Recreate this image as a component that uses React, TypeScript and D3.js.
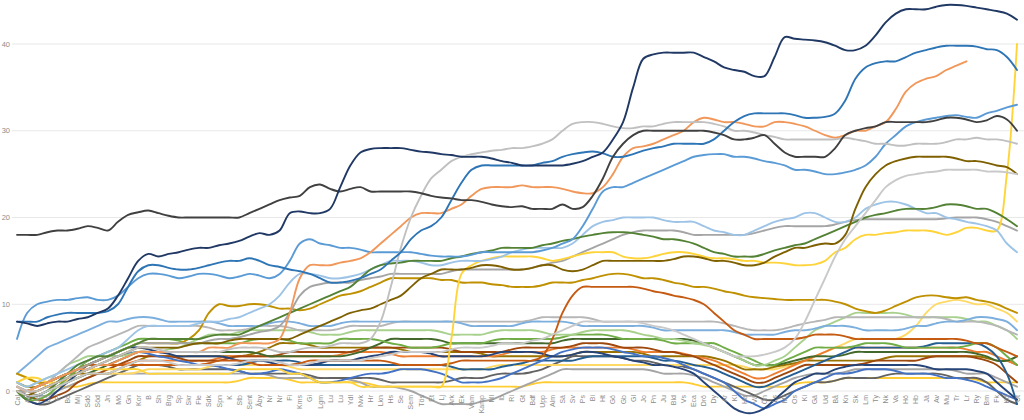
import React from 'react';
import * as d3 from 'd3';

// x-axis category labels (abbreviated place names)
const categories = [
  'Cal', 'Ak', 'Ja', 'Lö', 'Fl', 'Bo', 'Mij', 'Sdö', 'Söd', 'Jn',
  'Mö', 'Gn', 'Kor', 'B', 'Sh', 'Brg', 'Sp', 'Skr', 'Fle', 'Sdk',
  'Spn', 'K', 'Stb', 'Sent', 'Åby', 'Nr', 'Nr', 'Fi', 'Kms', 'Gi',
  'Lgm', 'Lu', 'Lu', 'Ydl', 'Nvk', 'Hr', 'Lkn', 'Hs', 'Se', 'Sem',
  'Tös', 'Et', 'Lj', 'Ark', 'Ek', 'Vam', 'Kamp', 'Ml', 'Ib', 'Ri',
  'Gt', 'Bdf', 'Upp', 'Alm', 'Sä', 'Sv', 'Ps', 'Bi', 'Ht', 'Gö',
  'Gb', 'Gl', 'Jo', 'Pn', 'Ju', 'Bld', 'Vs', 'Eca', 'Drö', 'Dy',
  'Ar', 'Kl', 'Ha', 'Vä', 'Ön', 'Ls', 'Mr', 'Os', 'Ki', 'Gä',
  'Ud', 'Bå', 'Kn', 'Sk', 'Lm', 'Ty', 'Nk', 'Va', 'Hö', 'Hb',
  'Jä', 'Av', 'Mu', 'Tr', 'Lr', 'Ry', 'Bm', 'Fk', 'Kd', 'Ut',
];

const yTicks = [0, 10, 20, 30, 40];

// low cluster
const low1 = [0,-0.5,-0.5,0,1,2,2.5,3,3.5,4, 4,4.3,4.5,4.3,4,3.8,3.5,3.3,3,3, 2.8,2.5,2.3,2,2,2.2,2.5,2.3,2,1.5, 1,1,1.2,1.5,1.8,2,2,2.2,2.5,2.5, 2.5,2.3,2,1.5,1,1,1,1.2,1.5,2, 2.5,3,3.5,4,4.5,4.8,5,5,5,4.8, 4.5,4.3,4,4,3.8,3.5,3,2.5,2,1.5, 1,0,-1,-1.5,-2,-1.5,-1,0,0.5,1, 1.5,2,2,2.2,2.5,2.5,2.5,2.3,2,2, 2,1.8,1.5,1.5,1.3,1,0.5,0,-0.5,-1];
const low2 = [0,-1,-1.5,-1,0,1,2,3,3.5,4, 4.5,5,5,4.8,4.5,4.3,4,4,4,4, 4,3.8,3.5,3.5,3.5,3.3,3,3,3,3, 3.2,3.5,3.5,3.5,3.8,4,4.2,4.5,4.5,4.5, 4.5,4.3,4,4,4,4,4,4.2,4.5,4.5, 4.5,4.5,4.3,4,4,4.2,4.5,4.5,4.3,4, 3.8,3.5,3.3,3,3,2.8,2.5,2,1,0, -1,-2,-2.5,-2.5,-2,-1,0,1,1.5,2, 2,2.5,2.8,3,3,3,3,3,3,3, 2.8,2.5,2.5,2.5,2.5,2.3,2,1,0,-1];
const low3 = [0.5,0,0,0.5,1,1.5,2,2.5,3,3, 3,3.2,3.5,3.5,3.5,3.5,3.5,3.5,3.5,3.5, 3.8,4,4,4,4,4,4,4,4,4, 4,4,4.2,4.5,4.5,4.5,4.5,4.3,4,4, 4,4,4,4,4,4,4,4,4.2,4.5, 4.5,4.5,4.5,4.8,5,5,5,5,5,5, 5,4.8,4.5,4.5,4.5,4.5,4.3,4,3.8,3.5, 3,2.5,2,1.5,1.5,2,2.5,3,3.5,4, 4.5,5,5,5,5,5,5,5,5,5, 5,5,5,5,4.8,4.5,4.5,4,3.5,3];
const low4 = [0,0,0.5,1,1.5,2,2.5,3,3,3, 3,3,3,3,3,3,3,3,3,3.2, 3.5,3.5,3.5,3.3,3,3,3,3,3.2,3.5, 3.5,3.5,3.5,3.5,3.5,3.5,3.5,3.3,3,3, 3,3,3,3.2,3.5,3.5,3.5,3.5,3.5,3.5, 3.5,3.5,4,6,9,11,12,12,12,12, 12,12,11.8,11.5,11.3,11,10.8,10.5,10,9, 8,7,6.5,6,6,6,6,6,6.2,6.5, 6.5,6.5,6.3,6,6,6,6,6,6,6, 6,6,6,6,5.8,5.5,5.5,5,4.5,4];
const low5 = [0,-0.5,-1,-1,-0.5,0,1,1.5,2,2.5, 3,3.5,4,4,4,4,3.8,3.5,3.5,3.5, 3.5,3.8,4,4,4,4,4.2,4.5,4.5,4.5, 4.5,4.5,4.5,4.5,4.8,5,5,5,5,5, 5,5,5,4.8,4.5,4.5,4.5,4.5,4.5,4.8, 5,5,5,5,5,5.2,5.5,5.5,5.5,5.3, 5,5,5,4.8,4.5,4.5,4.2,4,3.5,3, 2.5,2,1.5,1,1,1.5,2,2.5,3,3, 3,3,3,3,3.2,3.5,3.5,3.5,3.5,3.5, 3.8,4,4,4,4,3.8,3.5,3,2,1];
const low6 = [0,-1,-1.5,-1.5,-1,-0.5,0,0.5,1,1.5, 2,2.5,3,3,3,2.8,2.5,2.5,2.5,2.5, 2.5,2.5,2.3,2,2,2,2,2,2,1.8, 1.5,1.5,1.5,1.5,1.5,1.5,1.3,1,1,1, 1,1,1,1.2,1.5,1.5,1.5,1.8,2,2, 2,2.2,2.5,3,3.5,4,4,4,4,4, 3.8,3.5,3.5,3.3,3,3,2.8,2.5,2,1.5, 1,0.5,0,-0.5,-1,-1,-0.5,0,0.5,1, 1,1.2,1.5,1.5,1.5,1.5,1.8,2,2,2, 2,2,1.8,1.5,1.5,1.5,1,0,-1,-1.5];
const low7 = [0.5,0,-0.5,-0.5,0,0.5,1,1.5,2,2, 2,2,2,2,2,2,2,2,2,2, 2,2,2,2,2,1.8,1.5,1.5,1.5,1.5, 1.5,1.5,1.5,1.3,1,0.5,0.5,0.5,0.3,0, -0.5,-1,-1.5,-1.5,-1.5,-1.5,-1.2,-1,-0.5,0, 0.5,1,1.5,2,2.5,2.5,2.5,2.5,2.5,2.5, 2.5,2.5,2.5,2.3,2,2,2,1.8,1.5,1, 0.5,0,-0.5,-0.5,0,0.5,1,1.5,1.8,2, 2,2,2.2,2.5,2.5,2.5,2.5,2.5,2.5,2.5, 2.5,2.5,2.5,2.3,2,2,2,1.5,1,0.5];
const low8 = [2,1.5,1,1,1,1.2,1.5,2,2,2, 2,2,2.2,2.5,2.5,2.5,2.5,2.5,2.5,2.8, 3,3,3,3,3,3,3,2.8,2.5,2.5, 2.5,2.5,2.5,2.5,2.5,2.5,2.5,2.5,2.5,2.5, 2.5,2.5,2.5,2.5,2.5,2.5,2.5,2.8,3,3, 3,3,3,3,3,3,3,3,3,3, 3,3,3,3,3,3,3,3,3,3, 3,3,2.8,2.5,2.5,2.5,2.8,3,3.5,4, 4.5,5,5.5,6,6,6,6,6,6.5,7.5, 9,10,10.3,10.5,10.3,10,10,9.5,9,8];
const low9 = [1,0.5,0.5,1,1.5,2,2,2,2,2, 2.5,3,3.5,4,4,4,4,4,4,4, 4,4,4,4.2,4.5,5,5.5,5.5,5.5,5.3, 5,5,5,5,5,5,5,5,4.8,4.5, 4.5,4.5,4.5,4.5,4.5,4.5,4.3,4,4,4, 4,4,4,4,4,4.2,4.5,4.5,4.5,4.5, 4.5,4.5,4.3,4,4,4,4,4,4,3.8, 3.5,3,2.5,2.5,2.5,2.8,3,3.2,3.5,3.5, 3.5,3.5,3.5,3.5,3.5,3.5,3.8,4,4,4, 4,4,4,4,4,4,3.8,3.5,3.5,3];
const low10 = [0,-0.5,-0.5,0,0.5,1,1.5,2,2.5,3, 3.5,4,4.5,4.5,4.5,4.5,4.5,4.5,4.5,4.5, 4.5,4.5,4.5,4.5,4.3,4,4,4,4,4, 4,4,4,4.2,4.5,5,5.5,6,6,6, 6,6,5.8,5.5,5.5,5.5,5.5,5.5,5.5,5.5, 5.5,5.5,5.5,5.5,5.8,6,6,6,6,6, 6,6,6,6,6,6,6,5.8,5.5,5, 4.5,4,3.5,3,3,3,3.2,3.5,3.8,4, 4,4,4.2,4.5,4.5,4.5,4.5,4.5,4.5,4.5, 4.5,4.5,4.5,4.5,4.5,4.3,4,3.5,3.5,4];
const low11 = [0,0,0.5,1,1.5,2,2.5,3,3,3, 3,3,3,3,3,3,3,3,3,3, 3,3,3,3.2,3.5,3.5,3.5,3.5,3.3,3, 3,3,3,3,3,3,3,3,3,3, 3,3,3,2.8,2.5,2.5,2.5,2.5,2.8,3, 3.2,3.5,3.5,3.5,3.5,3.5,3.8,4,4,4, 4,4,4,3.8,3.5,3.5,3.3,3,2.8,2.5, 2,1.5,1,0.5,0.5,1,1.5,2,2.5,3, 3.5,4,4.5,5,5,5,5,5,5,5, 5.2,5.5,5.5,5.5,5.5,5.5,5,4,2,-1.5];
const low12 = [2,1.5,1,0.5,0.5,0.5,0.5,0.8,1,1, 1,1,1,1,1,1,1,1,1,1, 1,1,1.2,1.5,1.5,1.5,1.5,1.3,1,1, 1,1,1,1,1,0.8,0.5,0.5,0.5,0.5, 0.5,0.5,0.5,0.5,0.5,0.5,0.5,0.5,0.5,0.5, 0.5,0.8,1,1,1,1,1,1,1,1, 1,1,1,1,1,1,1,0.8,0.5,0.5, 0.5,0.5,0.5,0.5,0.5,0.5,0.5,0.8,1,1, 1,1.2,1.5,1.5,1.5,1.5,1.5,1.5,1.5,1.5, 1.5,1.5,1.5,1.5,1.5,1.3,1,1,1,1];

// middle band
const mid1 = [2,3,4,5,5.5,6,6.5,7,7.5,8, 8,8.3,8.5,8.5,8.3,8,8,8,8,8, 7.8,7.5,7.5,7.5,7.5,7.8,8,8,7.8,7.5, 7.5,7.5,7.8,8,8,8,8,8,8,8, 8,8,8,8,7.8,7.5,7.5,7.5,7.5,7.5, 7.8,8,8,8,8,7.8,7.5,7.5,7.5,7.5, 7.5,7.5,7.5,7.3,7,7,7,7,7,7, 7,6.8,6.5,6.5,6.5,6.5,6.8,7,7,7.2, 7.5,7.5,7.5,7.3,7,7,7,7,7.2,7.5, 7.5,7.8,8,8,8.2,8.5,8.5,8.3,8,7];
const mid2 = [0,-1,-1,-0.5,0.5,1.5,2.5,3.5,4,4.5, 5,5.5,6,6,6,6,5.8,5.5,5.5,5.5, 5.5,5.5,5.5,5.8,6,6,6,5.8,5.5,5.5, 5.5,5.5,6,6,6,6,5.8,5.5,5.3,5, 5,5,5.2,5.5,5.5,5.5,5.5,5.8,6,6, 6,6,6,6,6.2,6.5,6.5,6.5,6.5,6.3, 6,6,6,6,5.8,5.5,5.5,5.5,5.5,5.5, 5,4.5,4,3.5,3,3,3.5,4,4.5,5, 5,5,5,5.2,5.5,5.5,5.5,5.3,5,5, 5,5,5,5,5.2,5.5,5.5,5,4,3];
const mid3 = [1,0.5,1,1.5,2,3,3.5,4,4,4, 4,4.2,4.5,4.5,4.5,4.8,5,5.5,6,6.5, 6.5,6.5,6.8,7,7,7,7,7,7,6.8, 6.5,6.5,6.5,6.8,7,7,7,7,7,7, 7,7,6.8,6.5,6.5,6.5,6.5,6.8,7,7, 7,7,6.8,6.5,6.5,6.5,6.8,7,7,7, 7,6.8,6.5,6.3,6,6,5.8,5.5,5.3,5, 4.5,4,3.5,3,3,3.5,4,5,6,7, 7.5,8,8.5,9,9,9,9,9,8.8,8.5, 8.5,8.5,8.5,8.5,8.3,8,8,7.5,7,6];
const mid4 = [0,0,0.5,1,2,3,4,5,5.5,6, 6.5,7,7.5,7.5,7.5,7.5,7.5,7.5,7.5,7.3, 7,7,7,7.2,7.5,7.5,7.5,7.3,7,7, 7,7,7.2,7.5,7.5,7.5,7.5,7.8,8,8, 8,8,8,8,8,8,8,8,8,8, 8,8.2,8.5,8.5,8.5,8.5,8.5,8.3,8,8, 8,8,8,8,8,8,8,8,8,8, 7.8,7.5,7.2,7,7,7,7.2,7.5,7.8,8, 8.2,8.5,8.5,8.5,8.5,8.5,8.5,8.5,8.5,8.5, 8.5,8.5,8.3,8,8,8,7.8,7.5,7,6.5];

// upper lines
const gold = [2,1.5,1,1,1.5,2,2.5,3,3.5,4, 4.5,5,5.5,5.5,5.5,5.5,5.5,6,7,9, 10,9.8,9.8,10,10,9.8,9.5,9.5,9.3,9.5, 10,10.5,11,11.2,11.5,12,12.5,13,13,13, 13,13,12.8,12.8,12.5,12.5,12.5,12.3,12.2,12, 12,12,12.2,12.5,12.5,12.5,12.8,13,13.3,13.5, 13.5,13.3,13,13,12.8,12.5,12.3,12,12,11.8, 11.5,11.3,11,10.8,10.7,10.6,10.5,10.5,10.5,10.5, 10.5,10.3,10,9.5,9.2,9,9.3,9.8,10.3,10.8, 11,11,10.8,10.7,10.8,10.5,10.3,10,9.5,9];
const grayMid = [0,0,0.5,1,1.5,2,2.5,3,3.5,4, 4.5,5,5.5,5.5,5.5,5.5,5.5,5.5,5.5,5.8, 6,6,6.2,6.5,6.8,7,7.5,9,11,12, 12.3,12.5,12.5,12.5,12.8,13,13.2,13.5,13.5,13.5, 13.5,13.5,13.5,13.8,14,14,14,14,14,14, 14,14.2,14.5,14.8,15,15.5,16,16.5,17,17.5, 18,18.3,18.5,18.5,18.5,18.5,18.3,18,18,18, 18,18,18,18.2,18.5,18.8,19,19,19,19, 19,19.2,19.5,19.7,19.8,19.8,19.8,19.8,19.8,19.8, 19.8,19.8,19.9,20,20,20,19.8,19.5,19,18.5];
const yellow = [1,1.5,1.5,1,1,1.5,2,2.5,2.5,2.5, 2.5,2.5,2.5,2,2,2,2,2,2,2, 2,2,2.5,2.5,2.5,2.5,2.5,2,2,1.5, 1,1,1,1,0.5,0.5,0.5,0.5,0.5,0.5, 0.5,0.5,0.5,6,13.5,14.5,15,15.3,15.5,15.5, 15.5,15.5,15.3,15,15.2,15.5,15.8,16,16,16, 15.5,15.3,15.3,15.5,15.8,16,16,15.8,15.5,15.3, 15.3,15.2,15,15,14.8,14.8,14.7,14.5,14.5,14.6, 15,16,16.5,17.5,18,18,18.2,18.3,18.5,18.5, 18.5,18.3,18,18.3,18.8,18.8,18.5,18.5,25,40];
const lightBlue = [1,0.5,1,1.5,2,2.5,3,3.5,4,4.5, 5,6,7,7.5,7.5,7.5,7.5,7.5,7.8,8, 8,8.3,8.5,9,9.5,10,11,12.5,13.5,13.5, 13.3,13,13,13.2,13.5,14,14.5,15,15,15, 14.8,14.5,14.5,14.8,15,15,15,15.2,15.5,16, 16.3,16.5,16.5,16.5,16.5,17,18,19,19.5,19.7, 20,20,20,20,19.7,19.5,19.5,19.5,19,18.5, 18.3,18,18,18.5,19,19.5,19.8,20,20.5,20.5, 20,19.5,19.5,20,21,21.5,21.8,21.8,21.5,21, 20.5,20.5,20,19.8,19.5,19.3,19,18.5,17,16];
const green = [0,-1,-0.5,0,1,2,3,3.5,4,4, 4.5,5,5.5,6,6,6,6,6,6,6.3, 6.5,6.5,6.5,7,7.5,8,8.5,9,9.5,10, 10.5,11,11.5,12,13,14,14.5,14.7,14.8,15, 15,15,15,15.3,15.5,15.8,16,16.2,16.5,16.5, 16.5,16.5,16.8,17,17.3,17.5,17.8,18,18.2,18.3, 18.3,18.2,18,17.8,17.5,17.5,17.3,17,16.5,16, 15.8,15.5,15.5,15.5,15.8,16.2,16.5,16.8,17,17.5, 18,18.5,19,19.5,20,20.3,20.5,20.8,21,21, 21,21.2,21.5,21.5,21.3,21,21,20.5,19.8,19];
const olive = [0,-0.5,0,0.5,1,1.5,2,2.5,3,3.5, 4,4.5,5,5,5,5,5,5.3,5.5,5.5, 5.5,5.8,6,6,6,6,6,6,6.5,7, 7.5,8,8.5,9,9.3,9.5,10,10.5,11,12, 13,13.5,14,14,14,14.2,14.5,14.5,14.3,14, 14,14.2,14.5,14.5,14,13.8,14,14.5,15,15, 15,15,15,15,15,15.2,15.5,15.5,15.3,15, 15,14.8,14.5,14.5,14.8,15.5,16,16.5,16.5,16.8, 17,17,18,21,23.5,25,26,26.5,26.8,27, 27,27,27,26.8,26.5,26.5,26.3,26,25.8,25];
const grayRise = [0,-0.5,-0.5,0,0.5,1,1.5,2,2,2, 2.5,3,3.5,3.5,3.5,3.3,3,3,3,3, 3,3,3.2,3.5,3.5,3.5,3.3,3,3,3.2, 3.5,3.5,3.5,3.5,3.5,3.8,4,4.2,4.5,4.5, 4.5,4.5,4.5,4.8,5,5,5,5.2,5.5,5.5, 5.5,5.8,6,6.5,7,7.5,8,8,8,8, 8,8,7.8,7.5,7.3,7,6.5,6,5.5,5, 4.5,4,4,4,4.2,4.5,5,6,8,10.5, 13,15.5,17.5,19,20.5,22,23.5,24.3,24.8,25, 25.2,25.3,25.5,25.5,25.5,25.5,25.3,25.3,25.2,25];
const midBlue = [6,9,10,10.3,10.5,10.5,10.7,10.8,10.5,10.5, 11,12,13,13.5,13.5,13.3,13,13.2,13.5,13.5, 13.3,13,13.2,13.5,13.3,13,13.5,15,17,17.5, 17,16.8,16.5,16.5,16.3,16,16,16,16,16, 15.8,15.6,15.5,15.5,15.5,15.7,16,16,16,16, 16,16,16.2,16.5,17,17.5,19,21,23,23.5, 23.5,24,24.5,25,25.5,26,26.5,27,27.2,27.3, 27.3,27,27,26.8,26.5,26.3,26,25.5,25.5,25.3, 25,25,25.2,25.5,26,27,28.5,29.5,30.5,31, 31.3,31.5,31.7,31.8,31.6,31.5,32,32.3,32.7,33];
const orange = [0.5,0,0.5,1,1.5,2,2.5,2.5,3,3, 3.5,4,4.5,4.5,4.5,4.5,4.5,4.5,4.5,5, 5,5,5.5,5.5,5.5,5.5,6,9,13,14.5, 14.5,14.5,14.8,15,15.3,16,17,18,19,20, 20.5,20.5,20.5,21,21.5,22.5,23.3,23.5,23.5,23.5, 23.7,23.5,23.5,23.5,23.3,23,22.8,22.8,23.5,25, 27,28,28.2,28.5,29,29.5,30,31,31.5,31.3, 31,31,30.8,30.5,30.5,31,31,30.8,30.5,30, 29.5,29.2,29.5,30,30,30.5,31,32.5,34.5,35.5, 36,36.3,37,37.5,38,null,null,null,null,null];
const lightGray = [0.5,0,0,0.5,1,1.5,2,2.5,3,3.5, 4,4.5,5,5,4.8,4.5,4.5,4.5,4.5,4.5, 4.5,4.8,5,5,5,4.8,4.5,4.5,4.8,5, 5,5.2,5.5,5.5,5.5,6,8,12,16.5,20, 22.5,24.5,25.5,26.5,27,27.3,27.5,27.7,27.8,28, 28,28.2,28.5,29,30,30.8,31,31,30.8,30.5, 30.3,30.3,30.5,30.5,30.8,31,31,31,31,30.8, 30.5,30,30,29.8,29.5,29.3,29,29,29,29, 29,29,29.2,29,28.8,28.5,28.5,28.3,28.3,28.5, 28.5,28.5,28.7,29,29,29.2,29,29,28.8,28.5];
const blue = [8,8,8,8.5,8.8,9,9,9,9,9.2, 10,12,13.8,14.5,14.5,14.2,14,14,14.2,14.5, 14.8,15,15,15.3,15,14.5,14.3,14,13.8,13.5, 13,12.5,12.5,12.7,13,13.5,14,15,16,17.5, 18.5,19,20,22,24,25.5,26,26,26,26, 26,26,26.3,26.5,27,27.3,27.5,27.6,27.4,27, 27,27.3,27.7,28,28.2,28.5,28.5,28.5,28.5,29, 30,31,31.7,32,32,32,32,31.8,31.5,31.5, 31.6,32,33.5,36,37.3,37.8,38,38,38.5,39, 39.3,39.6,39.8,39.8,39.8,39.7,39.4,39.3,38.5,37];
const charcoal = [18,18,18,18.3,18.5,18.5,18.7,19,18.8,18.5, 19.5,20.3,20.6,20.8,20.5,20.2,20,20,20,20, 20,20,20,20.5,21,21.5,22,22.3,22.5,23.5, 23.8,23.3,23,23.3,23.5,23,23,23,23,23, 22.8,22.5,22.3,22.2,22,22,21.8,21.5,21.3,21.2, 21.3,21,21,21,21.5,21,21.2,22.5,24.5,27, 28.5,29.5,30,30,30,30,30,30,30,29.8, 29.5,29,29,29.2,29.5,28.5,27.5,27,27,27, 27,28,29.5,30,30.3,30.5,31,31,31,31, 31,31.2,31.5,31.5,31.3,31,31.2,31.7,31.3,30];
const navy = [8,7.8,7.5,7.8,8,8,8.3,8.5,9,9.5, 11,13,15,15.8,15.5,15.8,16,16.3,16.5,16.5, 16.8,17,17.3,17.8,18.2,18,18.5,20.5,20.7,20.5, 20.5,21,23.5,26,27.5,27.9,28,28,28,27.8, 27.6,27.5,27.3,27.2,27,27,27,26.8,26.5,26.3, 26,26,26,26,26,26.2,26.5,27,27.5,29, 31,35,38.3,38.8,39,39,39,39,38.5,38, 37.3,37,36.8,36.3,36.3,38.5,40.8,40.6,40.5,40.4, 40.2,39.8,39.3,39.3,39.8,41,42.5,43.5,44,44, 44,44.3,44.5,44.5,44.4,44.2,44,43.8,43.5,42.8];

const series: { values: (number | null)[]; color: string }[] = [
  { values: low12, color: '#ffcd33' },
  { values: low7, color: '#a5a5a5' },
  { values: low6, color: '#636363' },
  { values: low8, color: '#ffd966' },
  { values: low9, color: '#997300' },
  { values: low3, color: '#ed7d31' },
  { values: low5, color: '#9e480e' },
  { values: low10, color: '#43682b' },
  { values: low11, color: '#255e91' },
  { values: low1, color: '#4472c4' },
  { values: low2, color: '#264478' },
  { values: mid2, color: '#70ad47' },
  { values: mid3, color: '#a9d18e' },
  { values: mid4, color: '#b7b7b7' },
  { values: mid1, color: '#7cafdd' },
  { values: low4, color: '#c55a11' },
  { values: gold, color: '#bf9000' },
  { values: grayMid, color: '#a5a5a5' },
  { values: yellow, color: '#ffd43b' },
  { values: lightBlue, color: '#9dc3e6' },
  { values: green, color: '#548235' },
  { values: olive, color: '#7f6000' },
  { values: grayRise, color: '#c9c9c9' },
  { values: midBlue, color: '#5b9bd5' },
  { values: orange, color: '#f1975a' },
  { values: lightGray, color: '#c0c0c0' },
  { values: blue, color: '#2e75b6' },
  { values: charcoal, color: '#404040' },
  { values: navy, color: '#203864' },
];

const width = 1024;
const height = 420;

export default function App() {
  const idx = categories.map((_, i) => i);
  const x = d3.scalePoint<number>().domain(idx).range([17, 1017]);
  const y = d3.scaleLinear().domain([0, 40]).range([391, 44]);

  const line = d3
    .line<number | null>()
    .defined(d => d !== null)
    .x((_, i) => x(i) as number)
    .y(d => y(d as number))
    .curve(d3.curveCatmullRom.alpha(0.5));

  return (
    <svg width={width} height={height} style={{ position: 'absolute', left: 0, top: 0, background: '#fff' }}>
      <g>
        {yTicks.map(t => (
          <g key={t}>
            <line x1={12} x2={width} y1={y(t)} y2={y(t)} stroke="#e8e8e8" strokeWidth={1} />
            <text x={10} y={y(t)} dy="0.35em" textAnchor="end" fontSize={7.5} fill="#8c8c8c" fontFamily="Liberation Sans, Arial, sans-serif">
              {t}
            </text>
          </g>
        ))}
      </g>
      <g fill="none" strokeWidth={1.9} strokeLinejoin="round" strokeLinecap="round">
        {series.map((s, k) => (
          <path key={k} d={line(s.values) || ''} stroke={s.color} />
        ))}
      </g>
      <g>
        {categories.map((c, i) => (
          <text
            key={i}
            transform={`translate(${(x(i) as number) + 2.5},395) rotate(-90)`}
            textAnchor="end"
            fontSize={7}
            fill="#8c8c8c"
            fontFamily="Liberation Sans, Arial, sans-serif"
          >
            {c}
          </text>
        ))}
      </g>
    </svg>
  );
}
